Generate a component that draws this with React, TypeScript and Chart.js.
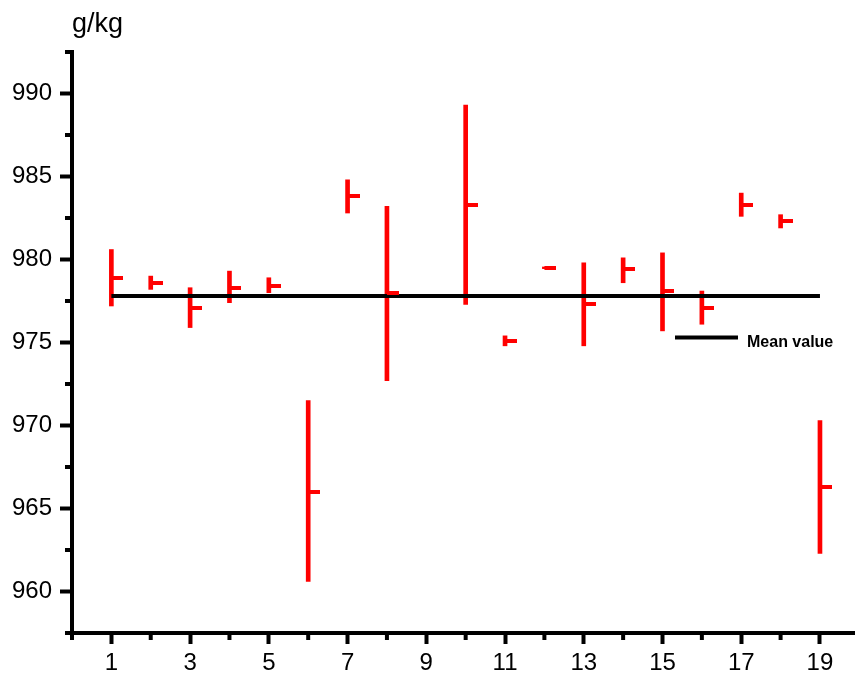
import React, { useEffect, useRef } from 'react';
import { Chart, registerables } from 'chart.js';

Chart.register(...registerables);

// ---- data ----
const categories = [1, 2, 3, 4, 5, 6, 7, 8, 9, 10, 11, 12, 13, 14, 15, 16, 17, 18, 19];
const highValues = [980.6, 979.0, 978.3, 979.3, 978.9, 971.5, 984.8, 983.2, null, 989.3, 975.4, 979.55, 979.8, 980.1, 980.4, 978.1, 984.0, 982.7, 970.3];
const lowValues = [977.2, 978.2, 975.9, 977.4, 978.0, 960.6, 982.8, 972.7, null, 977.3, 974.8, 979.45, 974.8, 978.6, 975.7, 976.1, 982.6, 981.9, 962.3];
const meanValues = [978.9, 978.6, 977.1, 978.3, 978.4, 966.0, 983.8, 978.0, null, 983.3, 975.1, 979.5, 977.3, 979.4, 978.1, 977.1, 983.3, 982.3, 966.3];
const overallMean = 977.8;
const meanSpan = [1, 19];

const xMajorTicks = [1, 3, 5, 7, 9, 11, 13, 15, 17, 19];
const xMinorTicks = [0, 2, 4, 6, 8, 10, 12, 14, 16, 18];
const yMajorTicks = [960, 965, 970, 975, 980, 985, 990];
const yMinorTicks = [957.5, 962.5, 967.5, 972.5, 977.5, 982.5, 987.5, 992.5];

const yUnit = 'g/kg';
const legendLabel = 'Mean value';

const FONT = '"Liberation Sans", Arial, Helvetica, sans-serif';

export default function App() {
  const ref = useRef<HTMLCanvasElement | null>(null);

  useEffect(() => {
    const canvas = ref.current;
    if (!canvas) return;

    // mean tick marker (extends to the right of the range line)
    const tick = document.createElement('canvas');
    tick.width = 24;
    tick.height = 4;
    const tctx = tick.getContext('2d')!;
    tctx.fillStyle = '#ff0000';
    tctx.fillRect(12, 0, 12, 4);

    const decor = {
      id: 'decor',
      afterDraw(chart: any) {
        const { ctx, chartArea, scales } = chart;
        ctx.save();
        ctx.strokeStyle = '#000';
        ctx.lineWidth = 4;
        ctx.lineCap = 'butt';
        xMinorTicks.forEach((v) => {
          const px = scales.x.getPixelForValue(v);
          ctx.beginPath();
          ctx.moveTo(px, chartArea.bottom);
          ctx.lineTo(px, chartArea.bottom + 7);
          ctx.stroke();
        });
        yMinorTicks.forEach((v) => {
          const py = scales.y.getPixelForValue(v);
          ctx.beginPath();
          ctx.moveTo(chartArea.left - 7, py);
          ctx.lineTo(chartArea.left, py);
          ctx.stroke();
        });
        // unit title
        ctx.fillStyle = '#000';
        ctx.font = `27px ${FONT}`;
        ctx.textAlign = 'left';
        ctx.textBaseline = 'alphabetic';
        ctx.fillText(yUnit, chartArea.left, 31.5);
        // legend
        const lx = chartArea.left + 603;
        const ly = chartArea.top + 285.5;
        ctx.lineWidth = 4;
        ctx.beginPath();
        ctx.moveTo(lx, ly);
        ctx.lineTo(lx + 63, ly);
        ctx.stroke();
        ctx.font = `bold 16px ${FONT}`;
        ctx.fillText(legendLabel, lx + 72, ly + 9.2);
        ctx.restore();
      },
    };

    const tickData: any[] = [];
    const barData: any[] = [];
    categories.forEach((c, i) => {
      if (meanValues[i] != null) tickData.push({ x: c, y: meanValues[i] });
      if (lowValues[i] != null && highValues[i] != null) barData.push({ x: c, y: [lowValues[i], highValues[i]] });
    });

    const chart = new Chart(canvas, {
      type: 'scatter',
      data: {
        datasets: [
          {
            type: 'scatter',
            data: tickData,
            pointStyle: tick as any,
            pointRadius: 3,
            order: 0,
          } as any,
          {
            type: 'line',
            data: meanSpan.map((x) => ({ x, y: overallMean })),
            borderColor: '#000000',
            borderWidth: 4,
            pointRadius: 0,
            fill: false,
            tension: 0,
            order: 1,
          } as any,
          {
            type: 'bar',
            data: barData,
            backgroundColor: '#ff0000',
            borderWidth: 0,
            barThickness: 4,
            grouped: false,
            order: 2,
          } as any,
        ],
      },
      options: {
        animation: false,
        responsive: false,
        events: [],
        layout: { autoPadding: false, padding: { top: 52, left: 0, right: 0, bottom: 0 } },
        plugins: {
          legend: { display: false },
          tooltip: { enabled: false },
          title: { display: false },
        },
        scales: {
          x: {
            type: 'linear',
            min: 0,
            max: 19.89,
            offset: false,
            grid: {
              display: true,
              drawOnChartArea: false,
              drawTicks: true,
              tickLength: 11,
              tickWidth: 4,
              tickColor: '#000',
              offset: false,
            },
            border: { display: true, color: '#000', width: 4 },
            ticks: {
              color: '#000',
              font: { family: FONT, size: 24 },
              padding: 5,
              maxRotation: 0,
              autoSkip: false,
            },
            afterBuildTicks: (s: any) => {
              s.ticks = xMajorTicks.map((v) => ({ value: v }));
            },
            afterFit: (s: any) => {
              s.height = 44;
              s.paddingLeft = 0;
              s.paddingRight = 0;
            },
          },
          y: {
            type: 'linear',
            min: 957.5,
            max: 992.5,
            grid: {
              display: true,
              drawOnChartArea: false,
              drawTicks: true,
              tickLength: 12,
              tickWidth: 4,
              tickColor: '#000',
            },
            border: { display: true, color: '#000', width: 4 },
            ticks: {
              color: '#000',
              font: { family: FONT, size: 24 },
              padding: 8,
              autoSkip: false,
            },
            afterBuildTicks: (s: any) => {
              s.ticks = yMajorTicks.map((v) => ({ value: v }));
            },
            afterFit: (s: any) => {
              s.width = 72;
              s.paddingTop = 0;
              s.paddingBottom = 0;
            },
          },
        },
      } as any,
      plugins: [decor],
    });

    return () => chart.destroy();
  }, []);

  return (
    <div style={{ position: 'fixed', left: 0, top: 0, width: 855, height: 677, background: '#fff' }}>
      <canvas ref={ref} width={855} height={677} style={{ display: 'block' }} />
    </div>
  );
}
